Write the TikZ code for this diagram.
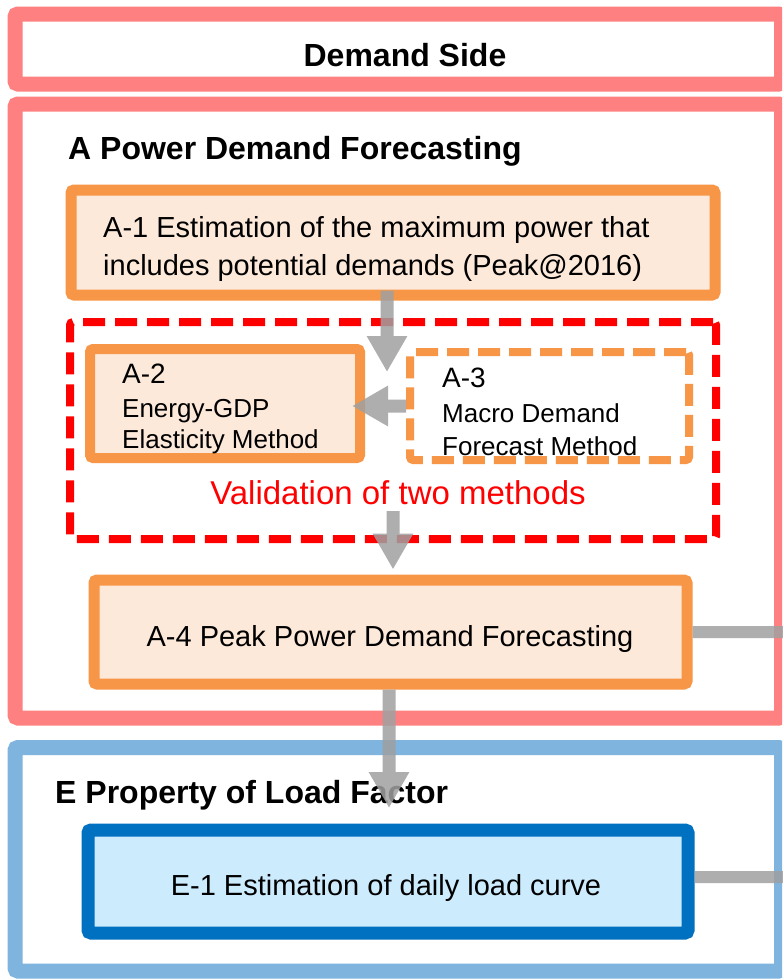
\documentclass[tikz,border=0pt]{standalone}
\usepackage{fontspec}
\setmainfont{Liberation Sans}
\usetikzlibrary{arrows.meta}
\definecolor{pinkb}{HTML}{FF8080}
\definecolor{orb}{HTML}{F79646}
\definecolor{orf}{HTML}{FDE9D9}
\definecolor{blueb}{HTML}{7EB4DE}
\definecolor{dblue}{HTML}{0070C0}
\definecolor{lblue}{HTML}{CCEBFD}
\definecolor{agray}{HTML}{A0A0A0}
\definecolor{redd}{HTML}{FF0000}
\tikzset{
  secbox/.style={draw=#1, fill=white, line width=15pt, inner sep=0pt, rounded corners=3pt},
  obox/.style={draw=orb, fill=orf, line width=11pt, inner sep=0pt, rounded corners=3pt},
  dbox/.style={draw=orb, line width=8pt, inner sep=0pt, rounded corners=3pt, dash pattern=on 22pt off 9pt},
  valbox/.style={draw=redd, line width=8pt, inner sep=0pt, rounded corners=3pt, dash pattern=on 22pt off 10pt},
  ebox/.style={draw=dblue, fill=lblue, line width=13pt, inner sep=0pt, rounded corners=3pt},
  bodyt/.style={inner sep=0pt, font=\fontsize{29}{29}\selectfont, text height=20.8pt, text depth=0pt},
  smallt/.style={inner sep=0pt, font=\fontsize{26}{26}\selectfont, text height=18.6pt, text depth=0pt},
  labt/.style={inner sep=0pt, font=\fontsize{28}{28}\selectfont, text height=20pt, text depth=0pt},
  titlet/.style={inner sep=0pt, font=\bfseries\fontsize{32}{32}\selectfont, text height=22.9pt, text depth=0pt},
  valt/.style={inner sep=0pt, text=redd, font=\fontsize{33}{33}\selectfont, text height=23.6pt, text depth=0pt},
  garrow/.style={draw=agray, fill=agray, line width=13pt, -{Triangle[length=36pt,width=38pt]}},
  gline/.style={draw=agray, line width=12pt},
}
\begin{document}
\begin{tikzpicture}[x=1pt,y=-1pt]
\useasboundingbox (0,0) rectangle (782,980);
\clip (0,0) rectangle (782,980);
% sections
\node[secbox=pinkb, minimum width=766.5pt, minimum height=70pt] (ds) at (398.25,49) {};
\node[secbox=pinkb, minimum width=766.5pt, minimum height=614pt] (secA) at (398.25,411) {};
\node[secbox=blueb, minimum width=766.5pt, minimum height=223.5pt] (secE) at (398.25,859.25) {};
% boxes
\node[obox, minimum width=644pt, minimum height=105pt] (a1) at (393,242.5) {};
\node[valbox, minimum width=646pt, minimum height=217pt] (valid) at (393,430.5) {};
\node[obox, line width=10pt, minimum width=270pt, minimum height=109pt] (a2) at (225,403.5) {};
\node[dbox, minimum width=279pt, minimum height=108pt] (a3) at (549.5,406) {};
\node[obox, minimum width=593pt, minimum height=104pt] (a4) at (390.5,632) {};
\node[ebox, minimum width=600pt, minimum height=103pt] (e1) at (388,881.5) {};
% texts
\node[titlet] (tds) at (405,55) {Demand Side};
\node[titlet, anchor=west] (tA) at (68,148) {A Power Demand Forecasting};
\node[bodyt, anchor=west] (ta1a) at (103,227) {A-1 Estimation of the maximum power that};
\node[bodyt, anchor=west] (ta1b) at (103,265) {includes potential demands (Peak@2016)};
\node[labt, anchor=west] (ta2a) at (122,373) {A-2};
\node[smallt, anchor=west] (ta2b) at (122,408) {Energy-GDP};
\node[smallt, anchor=west] (ta2c) at (122,439) {Elasticity Method};
\node[labt, anchor=west] (ta3a) at (442,377) {A-3};
\node[smallt, anchor=west] (ta3b) at (442,413) {Macro Demand};
\node[smallt, anchor=west] (ta3c) at (442,446) {Forecast Method};
\node[valt] (tval) at (398,493) {Validation of two methods};
\node[bodyt] (ta4) at (390,636) {A-4 Peak Power Demand Forecasting};
\node[titlet, anchor=west] (tE) at (55,792) {E Property of Load Factor};
\node[bodyt] (te1) at (386,885) {E-1 Estimation of daily load curve};
% connectors
\coordinate (t1) at (387,372);
\coordinate (etip) at (389,808);
\coordinate (r1) at (800,632);
\coordinate (r2) at (800,877);
\begin{scope}[transparency group, opacity=0.85]
\draw[garrow] ([yshift=10pt]a1.south -| t1) -- (t1);
\draw[garrow] (a3.west) -- ([xshift=-13pt]a2.east |- a3.west);
\draw[garrow] ([yshift=32pt]valid.south) -- ([yshift=5pt]a4.north -| valid.south);
\draw[garrow] (a4.south -| etip) -- (etip);
\draw[gline] (a4.east) -- (a4.east -| r1);
\draw[gline] (e1.east |- r2) -- (r2);
\end{scope}
\end{tikzpicture}
\end{document}
